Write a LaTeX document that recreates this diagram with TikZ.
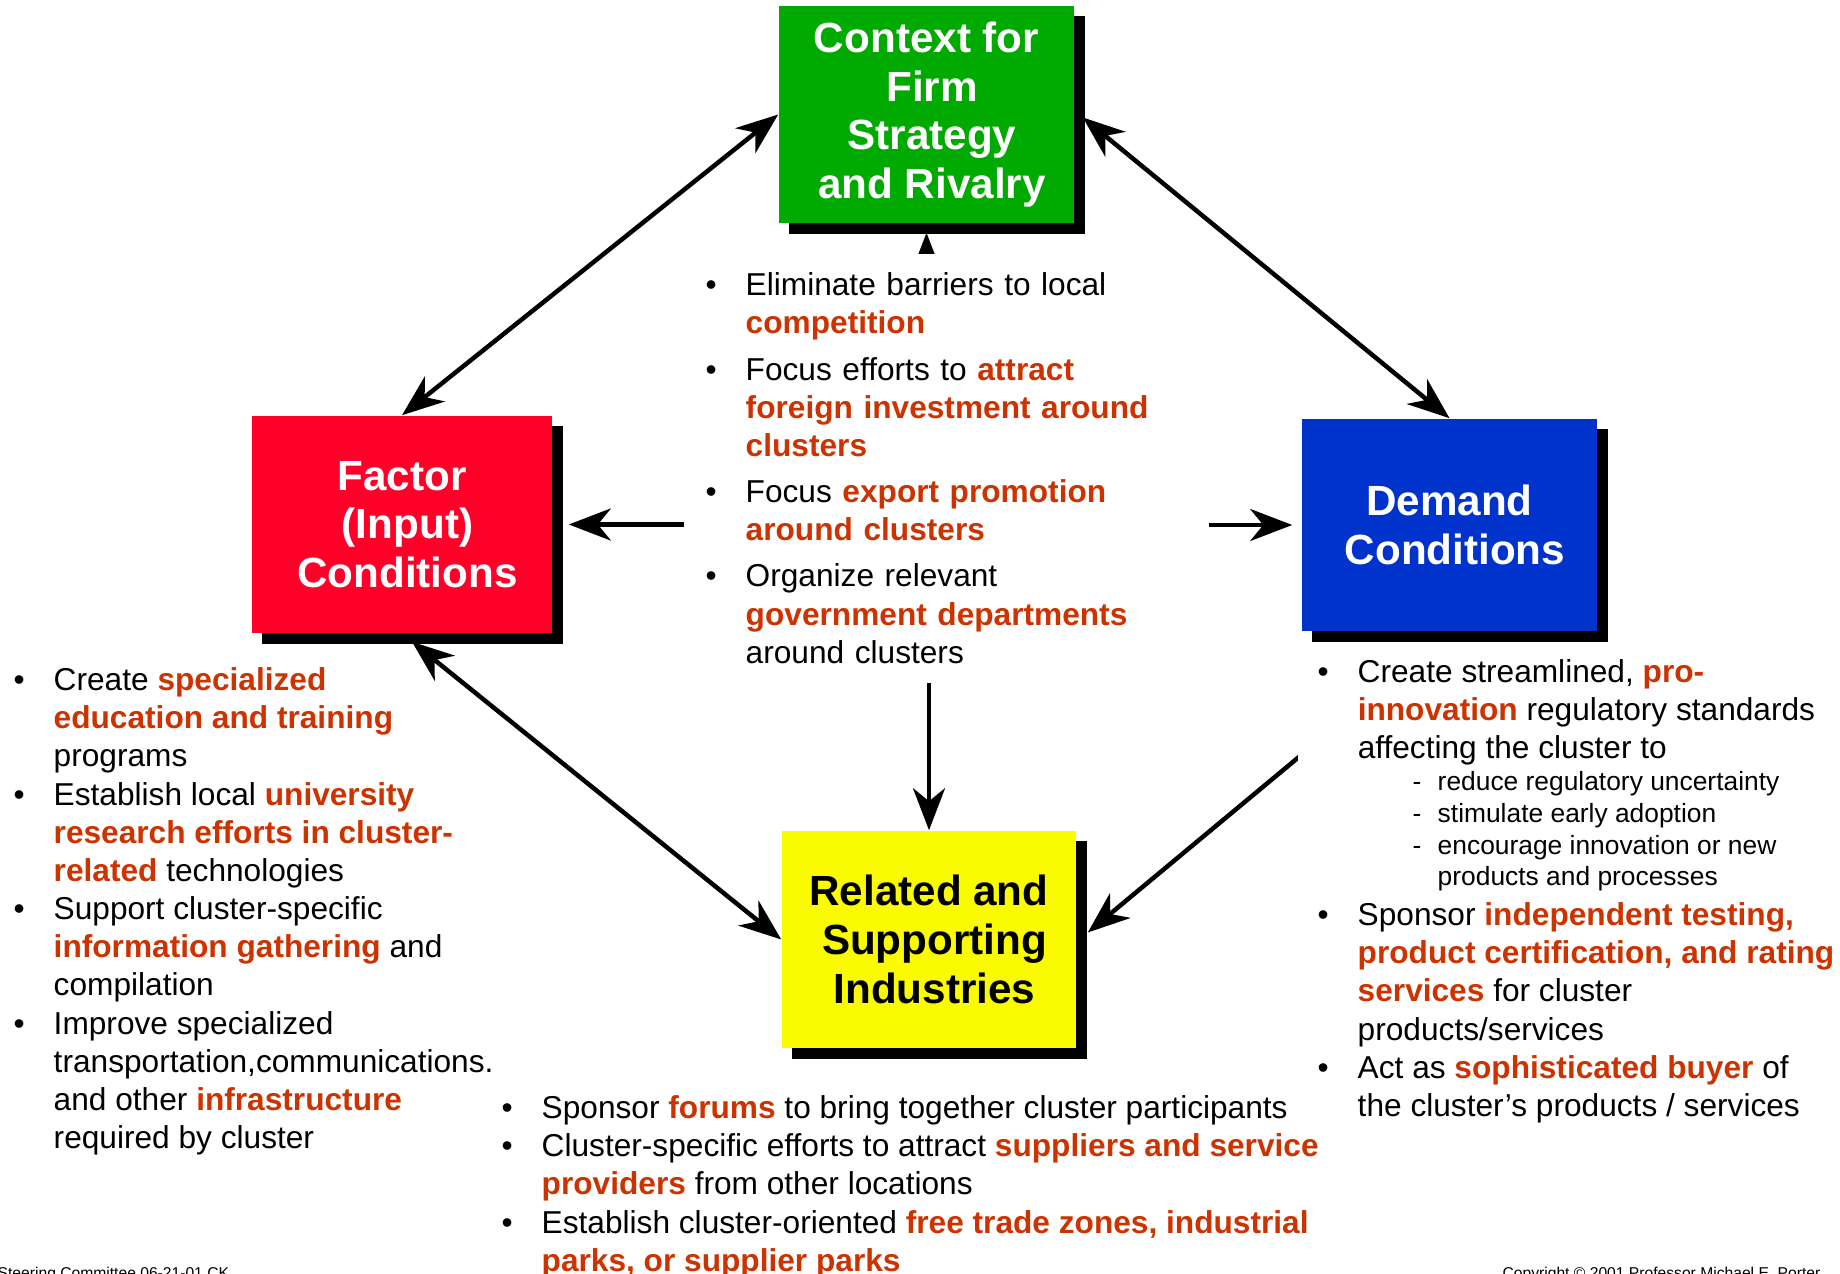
\documentclass[tikz,border=0pt]{standalone}
\usepackage{fontspec}
\setmainfont{Liberation Sans}
\usetikzlibrary{arrows.meta,calc,shadows}
\definecolor{grnbox}{RGB}{0,170,0}
\definecolor{redbox}{RGB}{255,0,41}
\definecolor{bluebox}{RGB}{0,51,204}
\definecolor{yelbox}{RGB}{250,250,0}
\definecolor{hlred}{RGB}{204,51,0}
\newcommand{\hl}[1]{{\bfseries\color{hlred}#1}}
\newcommand{\bul}{\makebox[0.4cm][l]{\textbullet}}
\newcommand{\ind}{\hspace*{0.4cm}}
\newcommand{\sdash}{\makebox[0.25cm][l]{-}}
\newcommand{\sind}{\hspace*{0.25cm}}
\newcommand{\bsh}{\hspace*{0.11cm}}
\pgfdeclarelayer{bg}
\pgfsetlayers{bg,main}
\tikzset{
  box/.style={align=center,inner sep=0pt,font=\fontsize{12}{13.85}\selectfont\bfseries,
    drop shadow={shadow xshift=0.105cm,shadow yshift=-0.105cm,fill=black,opacity=1}},
  txt/.style={anchor=north west,align=left,inner sep=0pt,font=\fontsize{9}{10.85}\selectfont},
  cover/.style={fill=white,inner xsep=0.2cm},
  link/.style={line width=0.045cm}
}
\begin{document}
\begin{tikzpicture}[x=0.01cm,y=-0.01cm,>={Stealth[length=0.42cm,width=0.32cm,inset=0.13cm]}]
\useasboundingbox (0,0) rectangle (1840,1274);
\node[txt] (facl) at (13,667) {\bul Create \hl{specialized}\\
\ind\hl{education and training}\\
\ind programs\\
\bul Establish local \hl{university}\\
\ind\hl{research efforts in cluster-}\\
\ind\hl{related} technologies\\
\bul Support cluster-specific\\
\ind\hl{information gathering} and\\
\ind compilation\\
\bul Improve specialized\\
\ind transportation,communications.\\
\ind and other \hl{infrastructure}\\
\ind required by cluster};
\node[txt,cover,inner xsep=0.21cm,inner ysep=0.19cm,text width=4.81cm] (ctr) at (684,253) {\bul Eliminate barriers to local\\
\ind\hl{competition}\\[2.3pt]
\bul Focus efforts to \hl{attract}\\
\ind\hl{foreign investment around}\\
\ind\hl{clusters}\\[2.3pt]
\bul Focus \hl{export promotion}\\
\ind\hl{around clusters}\\[2.3pt]
\bul Organize relevant\\
\ind\hl{government departments}\\
\ind around clusters};
\node[txt,cover,inner ysep=0.28cm] (deml) at (1297,631) {\bul Create streamlined, \hl{pro-}\\
\ind\hl{innovation} regulatory standards\\
\ind affecting the cluster to};
\node[txt,font=\fontsize{7.5}{9}\selectfont] (dems) at (1412,771) {\sdash reduce regulatory uncertainty\\
\sdash stimulate early adoption\\
\sdash encourage innovation or new\\
\sind products and processes};
\node[txt] (demm) at (1317,902) {\bul Sponsor \hl{independent testing,}\\
\ind\hl{product certification, and rating}\\
\ind\hl{services} for cluster\\
\ind products/services\\
\bul Act as \hl{sophisticated buyer} of\\
\ind the cluster’s products / services};
\node[txt] (yell) at (501,1095) {\bul Sponsor \hl{forums} to bring together cluster participants\\
\bul Cluster-specific efforts to attract \hl{suppliers and service}\\
\ind\hl{providers} from other locations\\
\bul Establish cluster-oriented \hl{free trade zones, industrial}\\
\ind\hl{parks, or supplier parks}};
\node[anchor=base west,inner sep=0pt,font=\fontsize{4.45}{5}\selectfont] (stc) at (-3,1278) {Steering Committee 06-21-01 CK};
\node[anchor=base east,inner sep=0pt,font=\fontsize{4.45}{5}\selectfont] (cpy) at (1821,1278) {Copyright © 2001 Professor Michael E. Porter};
\node[box,fill=grnbox,text=white,minimum width=2.95cm,minimum height=2.17cm] (grn) at (926.5,114.5) {Context for\\\bsh Firm\\\bsh Strategy\\\bsh and Rivalry};
\node[box,fill=redbox,text=white,minimum width=3cm,minimum height=2.17cm] (fac) at (402,524.5) {Factor\\\bsh (Input)\\\bsh Conditions};
\node[box,fill=bluebox,text=white,minimum width=2.95cm,minimum height=2.12cm] (dem) at (1449.5,525) {Demand\\\bsh Conditions};
\node[box,fill=yelbox,text=black,minimum width=2.94cm,minimum height=2.17cm] (yel) at (929,939.5) {Related and\\\bsh Supporting\\\bsh Industries};
\begin{pgfonlayer}{bg}
\draw[link,<->] (fac.north) -- (grn.west);
\draw[link,<->] (dem.north) -- ($(grn.east)+(8,3)$);
\draw[link,<->] ($(fac.south)+(10,8)$) -- (yel.west);
\draw[link,<->] (dem.south) -- ($(yel.east)+(11,-7)$);
\draw[link,->] (ctr.west |- fac.east) -- ($(fac.east)+(16,0)$);
\draw[link,->] (ctr.east |- dem.west) -- ($(dem.west)+(-9,0)$);
\draw[link,->] (ctr.north -| grn.south) -- ($(grn.south)+(0,9)$);
\draw[link,->] (ctr.south -| yel.north) -- (yel.north);
\end{pgfonlayer}
\end{tikzpicture}
\end{document}
